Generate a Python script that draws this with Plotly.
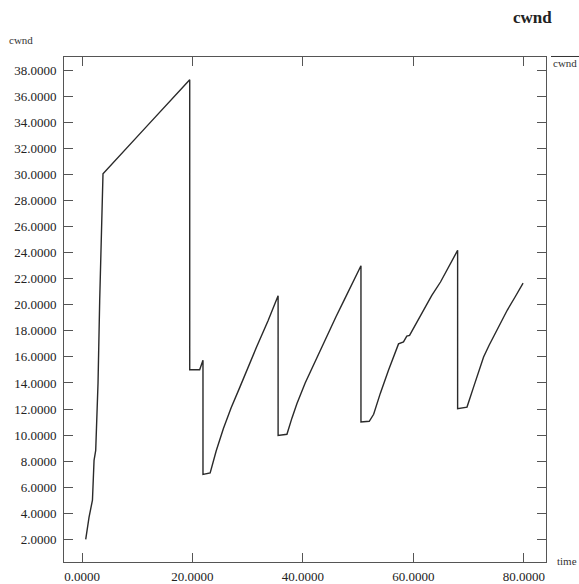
import plotly.graph_objects as go

# Data
time = [0.67, 1.27, 1.89, 2.18, 2.48, 2.9, 3.2, 3.8,
        11.5, 19.5,
        19.5, 21.3, 21.9, 21.9, 23.2, 24.3, 25.6, 27.0, 28.6, 30.1, 31.6, 33.7, 35.5,
        35.5, 37.1, 38.0, 38.9, 40.4, 41.9, 43.2, 44.6, 46.0, 47.5, 49.0, 50.5,
        50.5, 52.0, 52.8, 54.0, 55.5, 56.5, 57.3, 58.2, 58.8, 59.3, 60.5, 61.8, 63.3, 64.9, 66.5, 68.0,
        68.0, 69.7, 70.9, 71.8, 72.7, 73.7, 74.8, 75.9, 77.0, 78.4, 79.85]
cwnd = [2.0, 3.69, 5.0, 8.06, 8.83, 14.0, 20.3, 30.06,
        33.6, 37.28,
        15.02, 15.02, 15.74, 6.99, 7.1, 8.8, 10.5, 12.1, 13.7, 15.3, 16.76, 18.8, 20.7,
        9.98, 10.06, 11.3, 12.4, 14.0, 15.4, 16.6, 17.8, 19.1, 20.4, 21.7, 23.0,
        11.0, 11.06, 11.6, 13.2, 15.0, 16.1, 17.0, 17.15, 17.6, 17.66, 18.6, 19.6, 20.7, 21.75, 23.0, 24.18,
        12.03, 12.15, 13.7, 14.9, 16.0, 16.9, 17.8, 18.7, 19.6, 20.6, 21.67]

x_ticks = [0, 20, 40, 60, 80]
y_ticks = [2, 4, 6, 8, 10, 12, 14, 16, 18, 20, 22, 24, 26, 28, 30, 32, 34, 36, 38]

FONT = "Liberation Serif, Times New Roman, serif"

fig = go.Figure()
fig.add_trace(go.Scatter(x=time, y=cwnd, mode="lines", name="cwnd",
                         line=dict(color="#2a2a2a", width=1.4)))

axis_common = dict(showgrid=False, zeroline=False, showline=True, linecolor="#555555",
                   linewidth=1, mirror="allticks", ticks="inside", ticklen=9,
                   tickcolor="#555555", tickwidth=1, tickformat=".4f", automargin=False,
                   tickfont=dict(family=FONT, size=13, color="#222222"))

fig.update_xaxes(range=[-3.26, 84.0], tickvals=x_ticks, ticklabelstandoff=2, **axis_common)
fig.update_yaxes(range=[0.26, 39.02], tickvals=y_ticks, ticklabelstandoff=4, **axis_common)

annotations = [
    dict(text="<b>cwnd</b>", x=0.973, y=1.079, xref="paper", yref="paper",
         xanchor="center", yanchor="middle", showarrow=False,
         font=dict(family=FONT, size=17, color="#222222")),
    dict(text="cwnd", x=-0.118, y=1.034, xref="paper", yref="paper",
         xanchor="left", yanchor="middle", showarrow=False,
         font=dict(family=FONT, size=11, color="#333333")),
    dict(text="time", x=1.0187, y=0.002, xref="paper", yref="paper",
         xanchor="left", yanchor="middle", showarrow=False,
         font=dict(family=FONT, size=11, color="#333333")),
    dict(text="cwnd", x=1.0104, y=0.988, xref="paper", yref="paper",
         xanchor="left", yanchor="middle", showarrow=False,
         font=dict(family=FONT, size=11, color="#333333")),
]
shapes = [
    dict(type="line", xref="paper", yref="paper", x0=1.0104, x1=1.07, y0=1.001, y1=1.001,
         line=dict(color="#333333", width=1)),
]

fig.update_layout(width=579, height=584, margin=dict(l=64, r=33, t=57, b=22, autoexpand=False),
                  plot_bgcolor="white", paper_bgcolor="white", showlegend=False,
                  annotations=annotations, shapes=shapes)

fig.write_html("out.html", config={"displayModeBar": False},
               post_script="document.body.style.margin='0';")
